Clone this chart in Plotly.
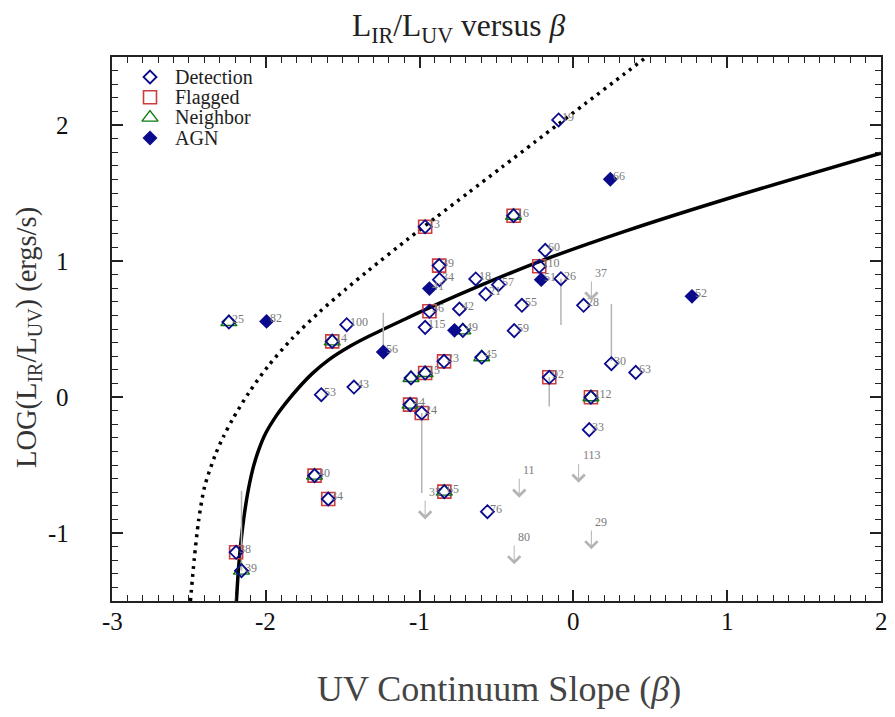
import plotly.graph_objects as go

# ---------------- data ----------------
det_beta = [-0.096, -0.389, -0.964, -2.240, -1.474, -1.568, -1.427, -1.639, -0.183, -0.222,
            -0.081, -0.873, -0.871, -0.635, -0.487, -0.570, -0.335, 0.066, 0.247, -0.936,
            -0.741, -0.964, -0.719, -0.385, -0.596, -0.841, -0.964, -1.056, -0.157, 0.114,
            -1.062, -0.986, 0.405, -1.683, -1.594, -2.193, -2.158, 0.103, -0.839, -0.559]
det_irx = [2.037, 1.333, 1.252, 0.551, 0.532, 0.409, 0.073, 0.017, 1.078, 0.961,
           0.870, 0.966, 0.863, 0.868, 0.826, 0.757, 0.674, 0.674, 0.245, 0.630,
           0.647, 0.512, 0.490, 0.488, 0.292, 0.262, 0.176, 0.140, 0.145, -0.002,
           -0.056, -0.118, 0.181, -0.578, -0.750, -1.142, -1.277, -0.240, -0.696, -0.843]
det_id = ["19", "16", "13", "25", "100", "14", "43", "53", "60", "110",
          "26", "39", "34", "18", "57", "21", "55", "28", "30", "36",
          "42", "115", "49", "59", "45", "23", "15", "", "92", "112",
          "44", "24", "63", "40", "34", "38", "39", "33", "65", "76"]
det_flagged = [0, 1, 1, 0, 0, 1, 0, 0, 0, 1,
               0, 1, 0, 0, 0, 0, 0, 0, 0, 1,
               0, 0, 0, 0, 0, 1, 1, 0, 1, 1,
               1, 1, 0, 1, 1, 1, 0, 0, 1, 0]
det_neighbor = [0, 1, 0, 1, 0, 1, 0, 0, 0, 0,
                0, 0, 0, 0, 0, 0, 0, 0, 0, 0,
                0, 0, 1, 0, 1, 0, 1, 1, 0, 1,
                1, 0, 0, 1, 0, 0, 1, 0, 1, 0]

agn_beta = [0.240, -1.995, -0.209, -0.936, -0.773, -1.236, 0.771]
agn_irx = [1.601, 0.556, 0.863, 0.797, 0.490, 0.331, 0.740]
agn_id = ["66", "82", "51", "41", "", "56", "52"]

# upper limits (arrows)
lim_beta = [0.117, 0.034, -0.352, -0.964, 0.117, -0.385]
lim_irx = [0.86, -0.48, -0.59, -0.75, -0.97, -1.08]
lim_id = ["37", "113", "11", "35", "29", "80"]

# grey vertical connectors
seg_beta = [-0.081, 0.247, -1.236, -0.157, -0.986, -2.158]
seg_y0 = [0.870, 0.265, 0.331, 0.145, -0.118, -1.277]
seg_y1 = [0.530, 0.684, 0.620, -0.070, -0.706, -0.690]

# model curves
solid_beta = [-2.191, -2.180, -2.169, -2.150, -2.130, -2.110, -2.080, -2.045, -2.000, -1.930,
              -1.860, -1.785, -1.700, -1.589, -1.450, -1.333, -1.100, -0.899, -0.600, -0.222,
              0.333, 1.000, 2.000]
solid_irx = [-1.50, -1.30, -1.15, -0.95, -0.79, -0.66, -0.51, -0.385, -0.265, -0.135,
             -0.030, 0.070, 0.170, 0.275, 0.375, 0.445, 0.570, 0.675, 0.822, 0.996,
             1.218, 1.458, 1.793]
dot_beta = [-2.490, -2.465, -2.437, -2.398, -2.330, -2.275, -2.214, -2.110, -1.980, -1.828,
            -1.654, -1.481, -1.333, -1.073, -0.899, -0.682, -0.465, -0.248, -0.096, 0.077,
            0.333, 0.480]
dot_irx = [-1.50, -1.19, -0.91, -0.66, -0.43, -0.29, -0.16, 0.032, 0.234, 0.431,
           0.622, 0.792, 0.930, 1.164, 1.316, 1.503, 1.690, 1.877, 2.008, 2.157,
           2.377, 2.505]

x_ticks = [-3, -2, -1, 0, 1, 2]
y_ticks = [-1, 0, 1, 2]
legend_names = ["Detection", "Flagged", "Neighbor", "AGN"]

# ---------------- style ----------------
FONT = "Liberation Serif"
BLUE = "#0a0a8c"
RED = "#cc3d3d"
GREEN = "#0b7a0b"
GREY = "#b4b4b4"
LABEL_GREY = "#7a7a7a"
LIM_LEN = 0.15
OFF = 8  # page offset of the plot div
W, H = 895, 717
L, T = 112 - OFF, 57 - OFF
R, B = W - (881 - OFF), H - (601 - OFF)
PW, PH = W - L - R, H - T - B


def px_to_paper(xp, yp):
    return (xp - OFF - L) / PW, (H - B - (yp - OFF)) / PH


fig = go.Figure()

fig.add_trace(go.Scatter(x=dot_beta, y=dot_irx, mode="lines", showlegend=False,
                         line=dict(color="black", width=3.5, dash="3px,5px", shape="spline", smoothing=0.8),
                         hoverinfo="skip"))
fig.add_trace(go.Scatter(x=solid_beta, y=solid_irx, mode="lines", showlegend=False,
                         line=dict(color="black", width=3.5, shape="spline", smoothing=0.8),
                         hoverinfo="skip"))

for b, y0, y1 in zip(seg_beta, seg_y0, seg_y1):
    fig.add_trace(go.Scatter(x=[b, b], y=[y0, y1], mode="lines", showlegend=False,
                             line=dict(color=GREY, width=1.5), hoverinfo="skip"))

fl_b = [b for b, f in zip(det_beta, det_flagged) if f]
fl_y = [y for y, f in zip(det_irx, det_flagged) if f]
nb_b = [b for b, f in zip(det_beta, det_neighbor) if f]
nb_y = [y for y, f in zip(det_irx, det_neighbor) if f]

sty = {
    "Flagged": dict(symbol="square-open", size=13, color=RED, line=dict(width=1.6)),
    "Neighbor": dict(symbol="triangle-up-open", size=14, color=GREEN, line=dict(width=1.4)),
    "Detection": dict(symbol="diamond-open", size=10, color=BLUE, line=dict(width=1.8)),
    "AGN": dict(symbol="diamond", size=11.5, color=BLUE, line=dict(width=0)),
}
fig.add_trace(go.Scatter(x=fl_b, y=fl_y, mode="markers", name="Flagged", showlegend=False, marker=sty["Flagged"]))
fig.add_trace(go.Scatter(x=nb_b, y=nb_y, mode="markers", name="Neighbor", showlegend=False, marker=sty["Neighbor"]))
fig.add_trace(go.Scatter(x=det_beta, y=det_irx, mode="markers", name="Detection", showlegend=False, marker=sty["Detection"]))
fig.add_trace(go.Scatter(x=agn_beta, y=agn_irx, mode="markers", name="AGN", showlegend=False, marker=sty["AGN"]))

annotations = []
for b, y, t in list(zip(det_beta, det_irx, det_id)) + list(zip(agn_beta, agn_irx, agn_id)):
    if t:
        annotations.append(dict(x=b, y=y, text=t, showarrow=False, xanchor="left", yanchor="middle",
                                xshift=1, yshift=3, font=dict(family=FONT, size=12, color=LABEL_GREY)))
for b, y, t in zip(lim_beta, lim_irx, lim_id):
    annotations.append(dict(x=b, y=y - LIM_LEN, ax=b, ay=y, axref="x", ayref="y", xref="x", yref="y",
                            text="", showarrow=True, arrowhead=4, arrowsize=2.4, arrowwidth=1,
                            arrowcolor=GREY))
    annotations.append(dict(x=b, y=y, text=t, showarrow=False, xanchor="left", yanchor="bottom",
                            xshift=2, yshift=-2, font=dict(family=FONT, size=12, color=LABEL_GREY)))

# tick labels
for v in x_ticks:
    annotations.append(dict(x=v, y=0, xref="x", yref="paper", text=str(v), showarrow=False,
                            xanchor="center", yanchor="middle", yshift=-20,
                            font=dict(family=FONT, size=25, color="#111")))
for v in y_ticks:
    annotations.append(dict(x=0, y=v, xref="paper", yref="y", text=str(v), showarrow=False,
                            xanchor="right", yanchor="middle", xshift=-41,
                            font=dict(family=FONT, size=25, color="#111")))

# custom legend
leg_x_sym, leg_x_txt, leg_y0, leg_dy = 150, 173, 77, 20.3
for i, name in enumerate(legend_names):
    sx, sy = px_to_paper(leg_x_sym, leg_y0 + i * leg_dy)
    fig.add_trace(go.Scatter(x=[sx], y=[sy], xaxis="x2", yaxis="y2", mode="markers", showlegend=False,
                             marker=sty[name], hoverinfo="skip"))
    tx, ty = px_to_paper(leg_x_txt, leg_y0 + i * leg_dy)
    annotations.append(dict(x=tx, y=ty, xref="paper", yref="paper", text=name, showarrow=False,
                            xanchor="left", yanchor="middle", font=dict(family=FONT, size=20, color="#222")))

# title and axis titles
tx, ty = px_to_paper(458, 28)
annotations.append(dict(x=tx, y=ty, xref="paper", yref="paper", showarrow=False, xanchor="center", yanchor="middle",
                        text="L<sub>IR</sub>/L<sub>UV</sub> versus <i>β</i>",
                        font=dict(family=FONT, size=31.5, color="#222")))
tx, ty = px_to_paper(499, 689)
annotations.append(dict(x=tx, y=ty, xref="paper", yref="paper", showarrow=False, xanchor="center", yanchor="middle",
                        text="UV Continuum Slope (<i>β</i>)", font=dict(family=FONT, size=36, color="#444")))
tx, ty = px_to_paper(28, 338)
annotations.append(dict(x=tx, y=ty, xref="paper", yref="paper", showarrow=False, xanchor="center", yanchor="middle",
                        textangle=-90, text="LOG(L<sub>IR</sub>/L<sub>UV</sub>) (ergs/s)",
                        font=dict(family=FONT, size=28.5, color="#333")))

fig.update_layout(
    width=W, height=H,
    margin=dict(l=L, r=R, t=T, b=B, autoexpand=False),
    paper_bgcolor="white", plot_bgcolor="white",
    font=dict(family=FONT, color="black"),
    showlegend=False,
    annotations=annotations,
    xaxis2=dict(overlaying="x", range=[0, 1], visible=False, fixedrange=True),
    yaxis2=dict(overlaying="y", range=[0, 1], visible=False, fixedrange=True),
)

common = dict(showline=True, linecolor="#222", linewidth=2, mirror="allticks", ticks="inside",
              tickwidth=1.5, tickcolor="#222", ticklen=11, showgrid=False, zeroline=False, automargin=False,
              showticklabels=False,
              minor=dict(ticks="inside", ticklen=6, tickwidth=1.2, tickcolor="#222", dtick=0.1, showgrid=False))
fig.update_layout(xaxis=dict(range=[-3, 2], tickvals=x_ticks, **common),
                  yaxis=dict(range=[-1.5, 2.5], tickvals=y_ticks, **common))

fig.write_html("out.html")
